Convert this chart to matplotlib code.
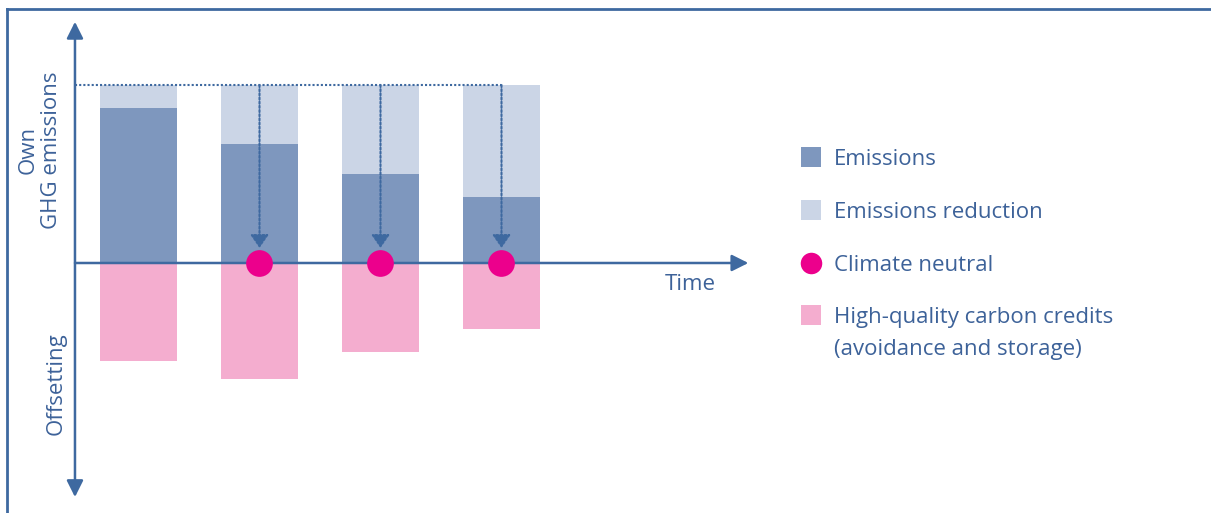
import matplotlib
matplotlib.use("Agg")
import matplotlib.pyplot as plt
from matplotlib.lines import Line2D

# ---- data ----
periods = [0, 1, 2, 3]
baseline = 100
emissions = [87, 67, 50, 37]
reduction = [baseline - e for e in emissions]
credits = [55, 65, 50, 37]
neutral_periods = [1, 2, 3]
labels = ["Emissions", "Emissions reduction", "Climate neutral",
          "High-quality carbon credits\n(avoidance and storage)"]

C_EM = "#7E97BE"
C_RED = "#CBD5E6"
C_CRED = "#F4ADCF"
C_DOT = "#EC008C"
C_AX = "#3E69A0"
C_TXT = "#3D6299"

plt.rcParams['font.family'] = ['Open Sans', 'DejaVu Sans']

W, H = 1211, 513
fig = plt.figure(figsize=(W / 100, H / 100), dpi=100)
ax = fig.add_axes([0, 0, 1, 1])
ax.set_xlim(-1.1446, 8.8636)
ax.set_ylim(-140.45, 147.75)
ax.axis("off")


def fx(px):
    return px / W


def fy(py):
    return 1 - py / H


w = 77 / 121
ax.bar(periods, emissions, width=w, color=C_EM, zorder=2)
ax.bar(periods, reduction, bottom=emissions, width=w, color=C_RED, zorder=2)
ax.bar(periods, [-c for c in credits], width=w, color=C_CRED, zorder=2)

# axes arrows
x_axis = -0.525
ax.annotate("", xy=(x_axis, 135.5), xytext=(x_axis, -131.5),
            arrowprops=dict(arrowstyle="<|-|>,head_length=1.0,head_width=0.5",
                            color=C_AX, lw=1.8, shrinkA=0, shrinkB=0), zorder=3)
ax.annotate("", xy=(5.04, 0), xytext=(x_axis, 0),
            arrowprops=dict(arrowstyle="-|>,head_length=1.0,head_width=0.5",
                            color=C_AX, lw=1.8, shrinkA=0, shrinkB=0), zorder=3)

# dotted baseline
ax.plot([x_axis, periods[-1]], [baseline, baseline], color=C_AX, lw=1.5,
        ls=(0, (1, 1)), zorder=3)

# dotted arrows to climate-neutral points
for p in neutral_periods:
    ax.annotate("", xy=(p, 8.4), xytext=(p, baseline),
                arrowprops=dict(arrowstyle="-|>,head_length=0.8,head_width=0.55",
                                color=C_AX, lw=1.5, ls=(0, (1, 1)),
                                shrinkA=0, shrinkB=0), zorder=4)
ax.scatter(neutral_periods, [0] * len(neutral_periods), s=370,
           color=C_DOT, zorder=5, linewidths=0)

# axis labels
fig.text(fx(40), fy(150), "Own\nGHG emissions", rotation=90, ha="center", va="center",
         fontsize=16, color=C_TXT, linespacing=1.13)
fig.text(fx(56), fy(384), "Offsetting", rotation=90, ha="center", va="center",
         fontsize=16, color=C_TXT)
fig.text(fx(690), fy(284), "Time", ha="center", va="center", fontsize=16, color=C_TXT)

# legend (manual layout)
rows_y = [157, 210, 263, 315]
handles = [("s", C_EM, 13.7), ("s", C_RED, 13.7), ("o", C_DOT, 15.5), ("s", C_CRED, 13.7)]
for yy, (mk, col, ms), lab in zip(rows_y, handles, labels):
    fig.add_artist(Line2D([fx(811)], [fy(yy)], marker=mk, color=col, markersize=ms,
                          markeredgewidth=0, ls="none", transform=fig.transFigure))
    fig.text(fx(834), fy(yy - 8), lab, ha="left", va="top", fontsize=16,
             color=C_TXT, linespacing=1.7)

# frame lines (left and top)
fig.add_artist(Line2D([fx(7), fx(7)], [0, fy(9)], transform=fig.transFigure,
                      color=C_AX, lw=2))
fig.add_artist(Line2D([fx(7), 1], [fy(9), fy(9)], transform=fig.transFigure,
                      color=C_AX, lw=2))

fig.savefig("out.png", dpi=100)
